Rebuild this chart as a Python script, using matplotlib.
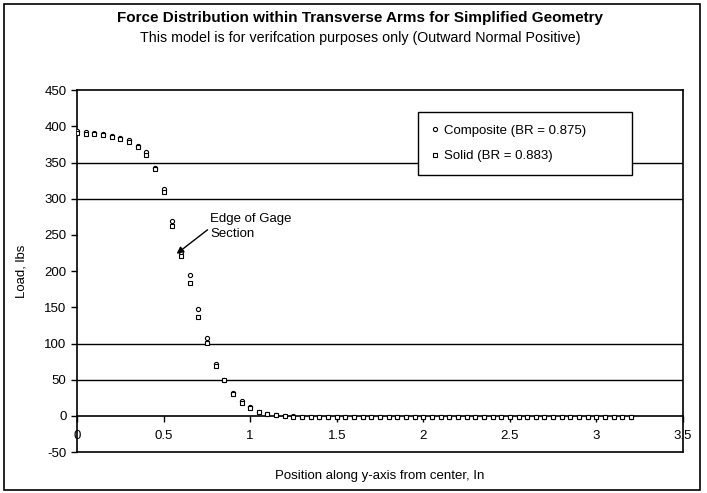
import matplotlib
matplotlib.use('Agg')
import matplotlib.pyplot as plt
from matplotlib.patches import Rectangle

plt.rcParams['font.family'] = ['Liberation Sans', 'DejaVu Sans']
plt.rcParams['axes.unicode_minus'] = False

# position along y-axis, in
pos = [0.00, 0.05, 0.10, 0.15, 0.20, 0.25, 0.30, 0.35, 0.40, 0.45,
       0.50, 0.55, 0.60, 0.65, 0.70, 0.75, 0.80, 0.85, 0.90, 0.95,
       1.00, 1.05, 1.10, 1.15, 1.20, 1.25, 1.30, 1.35, 1.40, 1.45,
       1.50, 1.55, 1.60, 1.65, 1.70, 1.75, 1.80, 1.85, 1.90, 1.95,
       2.00, 2.05, 2.10, 2.15, 2.20, 2.25, 2.30, 2.35, 2.40, 2.45,
       2.50, 2.55, 2.60, 2.65, 2.70, 2.75, 2.80, 2.85, 2.90, 2.95,
       3.00, 3.05, 3.10, 3.15, 3.20]

# load, lbs
composite = [393, 392, 391, 389, 387, 384, 381, 373, 364, 343,
             314, 269, 226, 194, 148, 107, 72, 50, 31, 20,
             12, 6, 3, 1, 0, 0, -1, -1, -1, -1,
             -1, -1, -1, -1, -1, -1, -1, -1, -1, -1,
             -1, -1, -1, -1, -1, -1, -1, -1, -1, -1,
             -1, -1, -1, -1, -1, -1, -1, -1, -1, -1,
             -1, -1, -1, -1, -1]
solid = [391, 390, 390, 388, 386, 383, 379, 371, 361, 341,
         310, 262, 221, 184, 137, 101, 69, 49, 30, 18,
         11, 5, 2, 1, 0, -1, -1, -1, -1, -1,
         -1, -1, -1, -1, -1, -1, -1, -1, -1, -1,
         -1, -1, -1, -1, -1, -1, -1, -1, -1, -1,
         -1, -1, -1, -1, -1, -1, -1, -1, -1, -1,
         -1, -1, -1, -1, -1]

x_ticks = [0, 0.5, 1, 1.5, 2, 2.5, 3, 3.5]
x_tick_labels = ['0', '0.5', '1', '1.5', '2', '2.5', '3', '3.5']
y_ticks = [-50, 0, 50, 100, 150, 200, 250, 300, 350, 400, 450]
grid_levels = [50, 100, 300, 350]  # the other gridlines are lost in the scan

fig = plt.figure(figsize=(7.07, 4.93), dpi=100)
ax = fig.add_axes([0.109, 0.083, 0.857, 0.734])

for g in grid_levels:
    ax.axhline(g, color='black', lw=1.0, zorder=1)

ax.plot(pos, composite, ls='none', marker='o', ms=3.0, mfc='white', mec='black',
        mew=0.8, label='Composite (BR = 0.875)', zorder=3)
ax.plot(pos, solid, ls='none', marker='s', ms=3.2, mfc='white', mec='black',
        mew=0.8, label='Solid (BR = 0.883)', zorder=3)

ax.set_xlim(0, 3.5)
ax.set_ylim(-50, 450)
ax.set_xticks(x_ticks)
ax.set_xticklabels(x_tick_labels)
ax.set_yticks(y_ticks)

# x axis crosses at 0, plot area border at -50
ax.spines['bottom'].set_position(('data', 0))
ax.axhline(-50, color='black', lw=1.2, clip_on=False, zorder=2)
for s in ['left', 'right', 'top', 'bottom']:
    ax.spines[s].set_linewidth(1.2)

ax.tick_params(axis='both', direction='out', length=4, width=1, labelsize=9.5)
ax.tick_params(axis='x', pad=6)

ax.set_ylabel('Load, lbs', fontsize=9.5, labelpad=12)
fig.text(0.537, 0.034, 'Position along y-axis from center, In', ha='center', va='center', fontsize=9.5)

fig.text(0.509, 0.963, 'Force Distribution within Transverse Arms for Simplified Geometry',
         ha='center', va='center', fontsize=11, fontweight='bold')
fig.text(0.509, 0.923, 'This model is for verifcation purposes only (Outward Normal Positive)',
         ha='center', va='center', fontsize=10.3)

ax.annotate('Edge of Gage\nSection', xy=(0.575, 224), xytext=(0.77, 262),
            fontsize=9.5, ha='left', va='center', linespacing=1.3,
            arrowprops=dict(arrowstyle='-|>', color='black', lw=1.0, mutation_scale=10,
                            shrinkA=0, shrinkB=0, relpos=(0, 0.45)))

leg = ax.legend(loc='upper left', bbox_to_anchor=(0.563, 0.757, 0.353, 0.182), mode='expand',
                fontsize=9.5, frameon=True, fancybox=False, edgecolor='black', framealpha=1,
                handlelength=0.6, handletextpad=0.4, labelspacing=1.0, borderpad=0.95,
                borderaxespad=0)
leg.get_frame().set_linewidth(1.0)
leg.set_zorder(5)

fig.patches.append(Rectangle((0.006, 0.006), 0.984, 0.986, transform=fig.transFigure,
                             fill=False, edgecolor='black', lw=1.2))

fig.savefig('out.png', dpi=100)
